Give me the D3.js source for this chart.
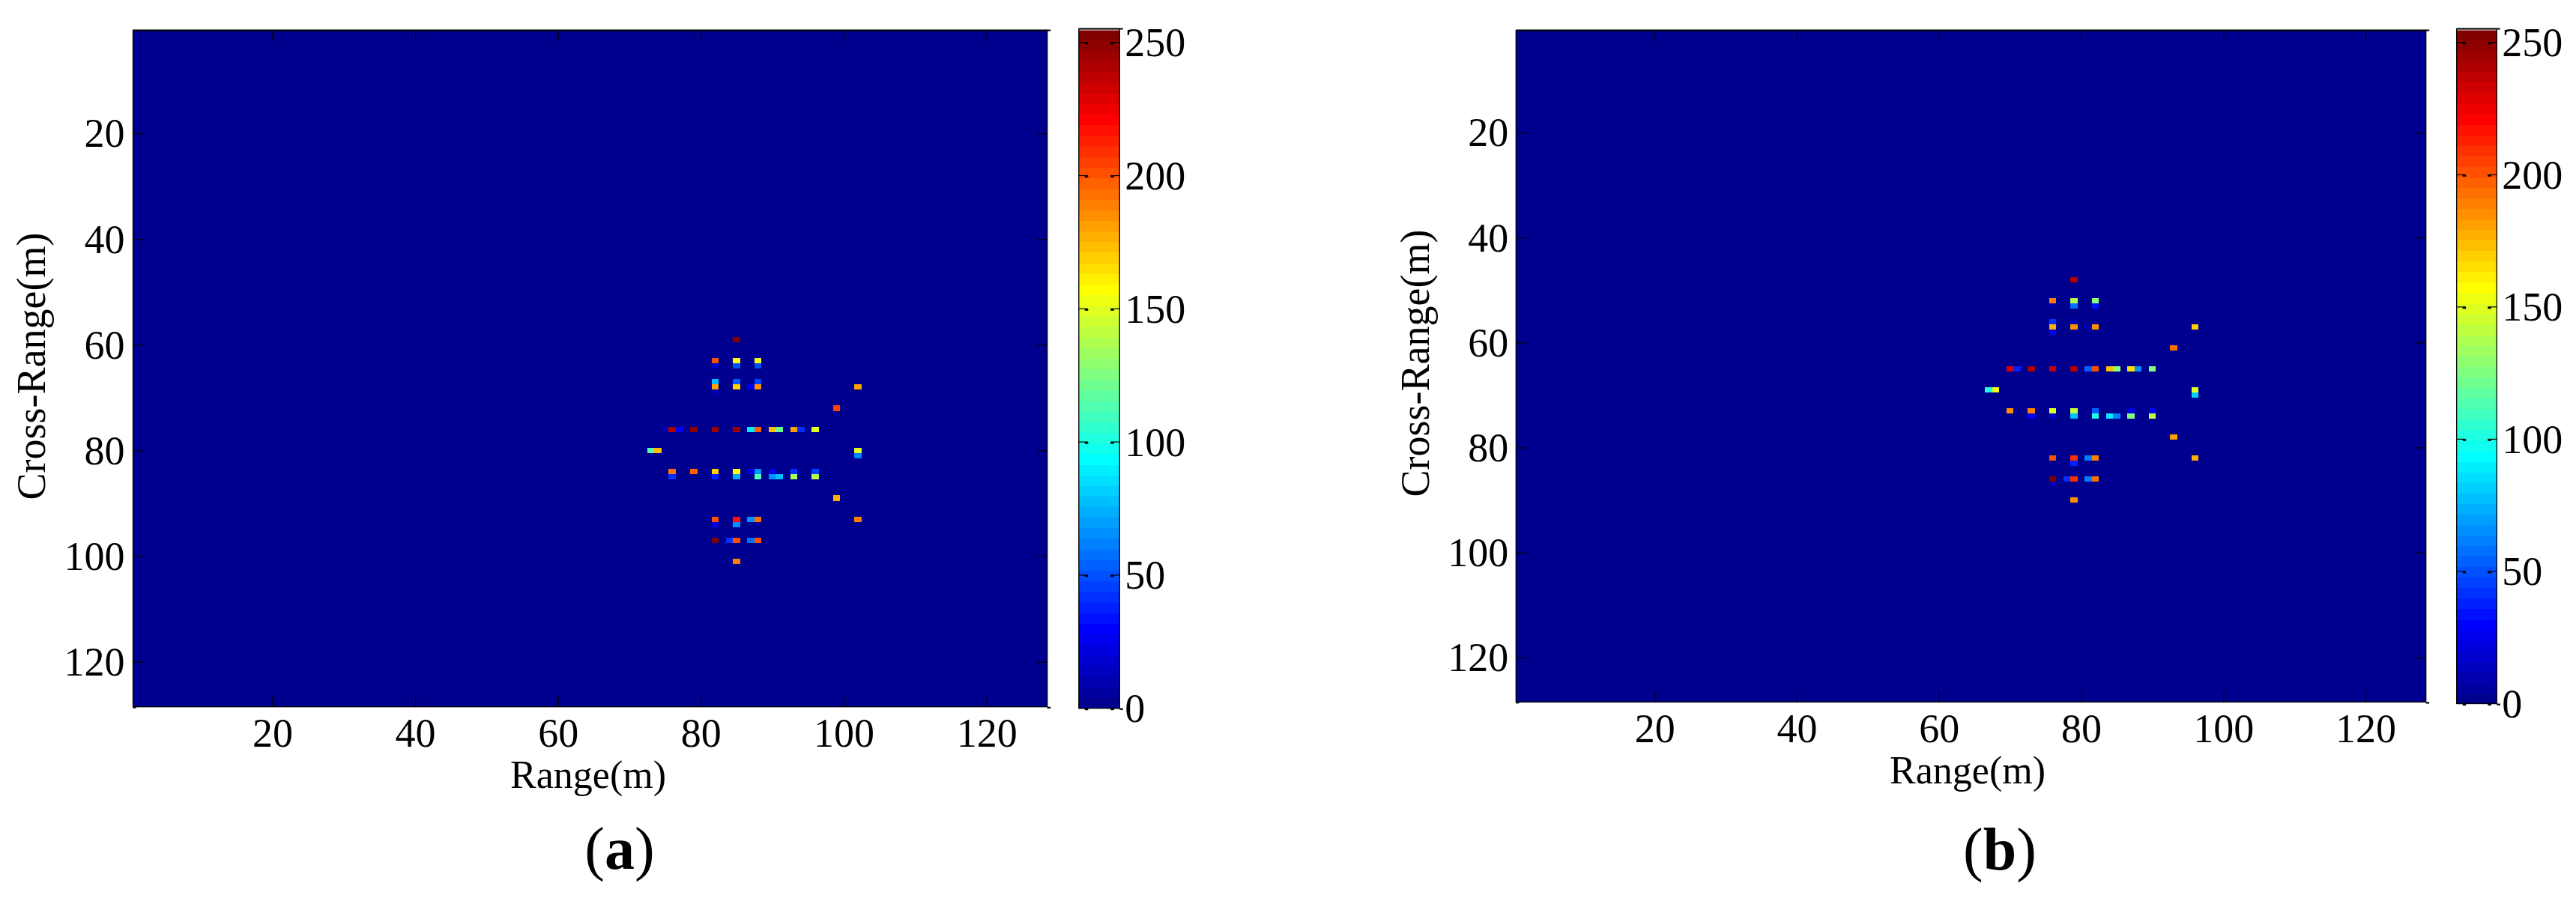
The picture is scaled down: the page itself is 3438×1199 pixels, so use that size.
<!DOCTYPE html>
<html>
<head>
<meta charset="utf-8">
<script src="https://d3js.org/d3.v7.min.js"></script>
<style>
html,body{margin:0;padding:0;background:#fff}
svg{display:block}
text{font-family:"Liberation Serif","Times New Roman",serif;fill:#000}
</style>
</head>
<body>
<svg id="chart" width="3438" height="1199"></svg>
<script>
// Data: [range column, cross-range row, amplitude] for every non-background cell
const cellsA = [
[85,59,253],
[82,63,201],[85,63,159],[88,63,155],
[82,64,18],[85,64,48],[88,64,48],
[82,67,76],[85,67,53],[88,67,47],
[82,68,181],[85,68,170],[87,68,24],[88,68,185],[102,68,181],
[82,69,8],
[99,72,205],
[75,76,8],[76,76,240],[77,76,28],[79,76,248],[82,76,244],[85,76,244],[87,76,88],[88,76,198],[90,76,172],[91,76,122],[93,76,181],[94,76,43],[96,76,150],
[73,80,112],[74,80,172],[102,80,150],
[102,81,60],
[76,84,193],[79,84,198],[82,84,170],[85,84,159],[87,84,20],[88,84,67],[90,84,24],[93,84,43],[96,84,47],
[76,85,43],[82,85,36],[85,85,72],[88,85,112],[90,85,64],[91,85,78],[93,85,136],[96,85,136],
[99,89,178],
[82,93,201],[85,93,217],[87,93,67],[88,93,193],[102,93,188],
[82,94,20],[85,94,67],
[82,97,253],[84,97,40],[85,97,203],[87,97,56],[88,97,203],
[85,101,190]
];
const cellsB = [
[79,48,240],
[76,52,188],[79,52,136],[82,52,128],
[76,53,10],[79,53,56],[82,53,32],
[76,56,43],[79,56,8],
[76,57,178],[79,57,186],[81,57,10],[82,57,187],[96,57,170],
[76,58,24],
[93,61,193],
[70,65,228],[71,65,36],[73,65,240],[76,65,232],[79,65,240],[81,65,52],[82,65,201],[84,65,172],[85,65,128],[87,65,166],[88,65,64],[90,65,124],
[67,69,100],[68,69,155],[96,69,150],
[96,70,83],
[70,73,187],[73,73,190],[76,73,150],[79,73,143],[82,73,52],[87,73,20],[90,73,30],
[73,74,30],[76,74,16],[79,74,76],[82,74,102],[84,74,88],[85,74,60],[87,74,124],[90,74,140],
[93,78,181],
[76,82,201],[79,82,208],[81,82,60],[82,82,190],[96,82,178],
[79,83,36],
[76,86,255],[78,86,43],[79,86,208],[81,86,60],[82,86,193],
[76,87,8],
[79,90,185]
];
const axisTicks = [20,40,60,80,100,120];
const colorTicks = [0,50,100,150,200,250];
const xTitle = "Range(m)";
const yTitle = "Cross-Range(m)";

// MATLAB jet(64)
const levels = 64, vMax = 255;
const jetR = t => Math.max(0, Math.min(1, Math.min(4*t-1.5, -4*t+4.5)));
const jetG = t => Math.max(0, Math.min(1, Math.min(4*t-0.5, -4*t+3.5)));
const jetB = t => Math.max(0, Math.min(1, Math.min(4*t+0.5, -4*t+2.5)));
const jetColors = d3.range(levels).map(i => {
  const t = (i+1)/levels;
  return d3.rgb(jetR(t)*255, jetG(t)*255, jetB(t)*255).formatHex();
});
const color = d3.scaleQuantize().domain([0,vMax]).range(jetColors);

const svg = d3.select("#chart");

function panel(p){
  const g = svg.append("g");
  const x = d3.scaleLinear().domain([0.5,128.5]).range([p.left,p.right]);
  const y = d3.scaleLinear().domain([0.5,128.5]).range([p.top,p.bottom]);

  // background of the image
  g.append("rect").attr("x",p.left).attr("y",p.top)
    .attr("width",p.right-p.left).attr("height",p.bottom-p.top).attr("fill",color(0));

  g.append("g").attr("shape-rendering","crispEdges").selectAll("rect").data(p.cells).join("rect")
    .attr("x",d=>x(d[0]-0.5)).attr("y",d=>y(d[1]-0.5))
    .attr("width",d=>x(d[0]+0.5)-x(d[0]-0.5)).attr("height",d=>y(d[1]+0.5)-y(d[1]-0.5))
    .attr("fill",d=>color(d[2]));

  // axes
  const tl = 14;
  const bottom = g.append("g").attr("transform",`translate(0,${p.bottom})`)
    .call(d3.axisBottom(x).tickValues(axisTicks).tickSize(-tl));
  const left = g.append("g").attr("transform",`translate(${p.left},0)`)
    .call(d3.axisLeft(y).tickValues(axisTicks).tickSize(-tl).tickPadding(p.yPad));
  const top = g.append("g").attr("transform",`translate(0,${p.top})`)
    .call(d3.axisTop(x).tickValues(axisTicks).tickSize(-tl).tickFormat(""));
  const right = g.append("g").attr("transform",`translate(${p.right},0)`)
    .call(d3.axisRight(y).tickValues(axisTicks).tickSize(-tl).tickFormat(""));
  [bottom,left,top,right].forEach(a=>{
    a.select(".domain").remove();
    a.selectAll("line").attr("stroke","#000").attr("stroke-width",1.2);
    a.selectAll("text").attr("font-size",54).attr("font-family",null);
  });
  bottom.selectAll("text").attr("dy",0).attr("y",p.xTickBase-p.bottom);
  left.selectAll("text").attr("dy","0.33em");
  bottom.selectAll(".tick").append("rect").attr("x",0).attr("y",-tl).attr("width",4.5).attr("height",2.5);
  top.selectAll(".tick").append("rect").attr("x",0).attr("y",tl-2.5).attr("width",4.5).attr("height",2.5);
  left.selectAll(".tick").append("rect").attr("x",tl-5).attr("y",0).attr("width",5).attr("height",2.5);
  right.selectAll(".tick").append("rect").attr("x",-tl).attr("y",0).attr("width",5).attr("height",2.5);

  // frame
  g.append("rect").attr("x",p.left).attr("y",p.top)
    .attr("width",p.right-p.left).attr("height",p.bottom-p.top)
    .attr("fill","none").attr("stroke","#000").attr("stroke-width",1.3);
  g.append("line").attr("x1",p.left).attr("x2",p.right+4.5).attr("y1",p.top).attr("y2",p.top)
    .attr("stroke","#000").attr("stroke-width",2);
  g.append("rect").attr("x",p.right).attr("y",p.bottom).attr("width",4.5).attr("height",2.2);
  g.append("rect").attr("x",p.left).attr("y",p.bottom).attr("width",4).attr("height",2);

  // titles
  g.append("text").attr("x",p.xTitleX).attr("y",p.xTitleY).attr("text-anchor","middle")
    .attr("font-size",52).text(xTitle);
  g.append("text").attr("transform",`translate(${p.yTitleX},${p.yTitleY}) rotate(-90)`)
    .attr("text-anchor","middle").attr("font-size",54).text(yTitle);

  const cap = g.append("text").attr("x",p.capX).attr("y",p.capY).attr("text-anchor","middle").attr("font-size",80);
  cap.append("tspan").text("(");
  cap.append("tspan").attr("font-weight","bold").text(p.cap);
  cap.append("tspan").text(")");

  // colour bar
  const c = d3.scaleLinear().domain([0,250]).range([p.cbBottom,p.cbTick250]);
  const bandH = (p.cbBottom-p.cbTop)/levels;
  g.append("g").attr("shape-rendering","crispEdges").selectAll("rect").data(jetColors).join("rect")
    .attr("x",p.cbLeft).attr("width",p.cbRight-p.cbLeft)
    .attr("y",(d,i)=>p.cbBottom-(i+1)*bandH).attr("height",bandH+0.5).attr("fill",d=>d);
  const cr = g.append("g").attr("transform",`translate(${p.cbRight},0)`)
    .call(d3.axisRight(c).tickValues(colorTicks).tickSize(0).tickPadding(7));
  cr.select(".domain").remove();
  cr.selectAll("text").attr("font-size",54).attr("font-family",null).attr("dy",0).attr("y",18);
  g.append("g").selectAll("g").data(colorTicks).join("g").each(function(v){
    const s = d3.select(this), yy = c(v);
    s.append("line").attr("x1",p.cbLeft).attr("x2",p.cbLeft+12).attr("y1",yy).attr("y2",yy).attr("stroke","#000").attr("stroke-width",1.2);
    s.append("line").attr("x1",p.cbRight-12).attr("x2",p.cbRight).attr("y1",yy).attr("y2",yy).attr("stroke","#000").attr("stroke-width",1.2);
    s.append("rect").attr("x",p.cbLeft+8).attr("y",yy).attr("width",4.5).attr("height",2.5);
    s.append("rect").attr("x",p.cbRight-12).attr("y",yy).attr("width",4.5).attr("height",2.5);
  });
  g.append("rect").attr("x",p.cbLeft).attr("y",p.cbTop).attr("width",p.cbRight-p.cbLeft).attr("height",1).attr("fill","#fff");
  g.append("rect").attr("x",p.cbLeft).attr("y",p.cbTop-1).attr("width",p.cbRight-p.cbLeft)
    .attr("height",p.cbBottom-p.cbTop+1).attr("fill","none").attr("stroke","#000").attr("stroke-width",1.3);
  g.append("rect").attr("x",p.cbLeft).attr("y",p.cbTop-2).attr("width",p.cbRight-p.cbLeft+4.5).attr("height",2);
  g.append("rect").attr("x",p.cbRight).attr("y",p.cbBottom).attr("width",4.5).attr("height",2.2);
}

panel({cells:cellsA,cap:"a",left:177.5,right:1397.7,top:40.5,bottom:943.7,yPad:11,
  xTickBase:996.7,xTitleX:785,xTitleY:1051.7,yTitleX:60,yTitleY:489,capX:827,capY:1160,
  cbLeft:1439.8,cbRight:1494.3,cbTop:39.5,cbBottom:945.7,cbTick250:56.7});
panel({cells:cellsB,cap:"b",left:2023.3,right:3237.7,top:40.5,bottom:937.3,yPad:10,
  xTickBase:990.7,xTitleX:2626,xTitleY:1045.7,yTitleX:1906.7,yTitleY:485,capX:2669,capY:1161,
  cbLeft:3278.7,cbRight:3332.3,cbTop:39.5,cbBottom:939.5,cbTick250:56.7});
</script>
</body>
</html>
